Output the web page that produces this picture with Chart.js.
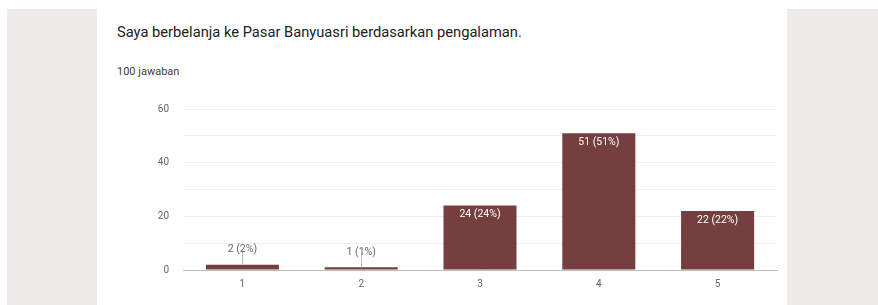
<!DOCTYPE html>
<html>
<head>
<meta charset="utf-8">
<script src="https://cdn.jsdelivr.net/npm/chart.js@4"></script>
<style>
  body { margin: 0; width: 878px; height: 305px; background: #fff; position: relative; overflow: hidden; font-family: Roboto, sans-serif; }
  .side { position: absolute; top: 9px; height: 296px; background: #efebe9; }
  #left { left: 7px; width: 90px; }
  #right { left: 787px; width: 91px; }
  #title { position: absolute; left: 117px; top: 23px; font-size: 14.7px; color: #202124; white-space: nowrap; }
  #count { position: absolute; left: 117px; top: 65px; font-size: 11px; color: #3c4043; }
  #wrap { position: absolute; left: 140px; top: 89px; width: 640px; height: 215px; }
</style>
</head>
<body>
<div class="side" id="left"></div>
<div class="side" id="right"></div>
<div id="title">Saya berbelanja ke Pasar Banyuasri berdasarkan pengalaman.</div>
<div id="count">100 jawaban</div>
<div id="wrap"><canvas id="myChart"></canvas></div>
<script>
const categories = ['1', '2', '3', '4', '5'];
const counts = [2, 1, 24, 51, 22];
const percents = [2, 1, 24, 51, 22];
const yTicks = [0, 20, 40, 60];

const barLabels = {
    id: 'barLabels',
    afterDatasetsDraw(chart) {
        const c = chart.ctx;
        const meta = chart.getDatasetMeta(0);
        c.save();
        c.font = '10.5px Roboto';
        c.textAlign = 'center';
        meta.data.forEach(function (bar, i) {
            const txt = counts[i] + ' (' + percents[i] + '%)';
            if (counts[i] < 5) {
                c.strokeStyle = '#bbbbbb';
                c.lineWidth = 1;
                c.beginPath();
                c.moveTo(Math.round(bar.x) + 0.5, bar.y);
                c.lineTo(Math.round(bar.x) + 0.5, bar.y - 14);
                c.stroke();
                c.fillStyle = '#666666';
                c.textBaseline = 'bottom';
                c.fillText(txt, bar.x, bar.y - 10);
            } else {
                c.fillStyle = '#ffffff';
                c.textBaseline = 'top';
                c.fillText(txt, bar.x, bar.y + 4);
            }
        });
        c.restore();
    }
};

const ctx = document.getElementById('myChart').getContext('2d');
const myChart = new Chart(ctx, {
    type: 'bar',
    data: {
        labels: categories,
        datasets: [{
            data: counts,
            backgroundColor: '#763f3f',
            categoryPercentage: 1,
            barPercentage: 0.615
        }]
    },
    plugins: [barLabels],
    options: {
        responsive: true,
        maintainAspectRatio: false,
        animation: false,
        layout: { padding: { top: 6, right: 3, bottom: 6, left: 0 } },
        plugins: { legend: { display: false }, tooltip: { enabled: false } },
        scales: {
            x: {
                grid: { display: false, drawTicks: false },
                border: { color: '#bdbdbd', width: 1 },
                ticks: { color: '#666666', font: { family: 'Roboto', size: 10 }, padding: 8 }
            },
            y: {
                min: 0,
                max: 60,
                afterFit(scale) { scale.width = 43; },
                afterBuildTicks(scale) {
                    scale.ticks = [0, 10, 20, 30, 40, 50, 60].map(v => ({ value: v }));
                },
                grid: { color: '#f0f0f0', drawTicks: false },
                border: { display: false },
                ticks: {
                    color: '#666666',
                    font: { family: 'Roboto', size: 10 },
                    padding: 14,
                    callback: v => yTicks.includes(v) ? v : ''
                }
            }
        }
    }
});
</script>
</body>
</html>
